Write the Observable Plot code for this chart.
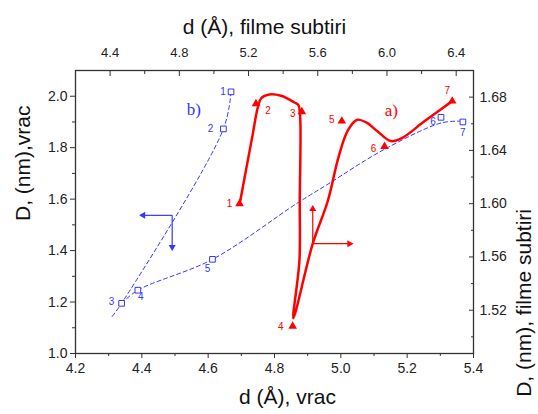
<!DOCTYPE html>
<html><head><meta charset="utf-8">
<script src="https://cdn.jsdelivr.net/npm/d3@7"></script>
<script src="https://cdn.jsdelivr.net/npm/@observablehq/plot@0.6"></script>
<style>body{margin:0;background:#fff}</style>
</head><body><div id="chart"></div>
<script>
// ---- data: bulk ("vrac") series b), bottom / left axes
const vracLabels = ["1","2","3","4","5","6","7"];
const vracD = [4.669, 4.646, 4.339, 4.388, 4.613, 5.302, 5.368];
const vracSize = [2.017, 1.873, 1.195, 1.246, 1.366, 1.918, 1.900];

// blue dashed curve as traced in the figure (two strokes: 1→3 with tail, 3→7)
const vracCurvePath = ["A","A","A","A","B","B","B","B","B","B","B","B"];
const vracCurveD = [4.669, 4.646, 4.339, 4.310, 4.339, 4.388, 4.613, 4.868, 4.957, 5.129, 5.302, 5.358];
const vracCurveSize = [2.017, 1.873, 1.195, 1.143, 1.195, 1.246, 1.366, 1.584, 1.655, 1.792, 1.896, 1.903];

// ---- data: thin films ("filme subtiri") series a), top / right axes
const filmLabels = ["1","2","3","4","5","6","7"];
const filmD = [5.148, 5.243, 5.508, 5.455, 5.739, 5.986, 6.377];
const filmSize = [1.600, 1.675, 1.669, 1.508, 1.662, 1.643, 1.677];

// red smooth curve as traced in the figure (film coordinates)
const filmCurveD = [5.152, 5.185, 5.224, 5.253, 5.272, 5.320, 5.388, 5.465, 5.488, 5.498, 5.496, 5.494, 5.459, 5.571, 5.658, 5.720, 5.774, 5.828, 5.880, 5.948, 6.021, 6.083, 6.218, 6.377];
const filmCurveSize = [1.602, 1.625, 1.652, 1.672, 1.679, 1.682, 1.681, 1.676, 1.674, 1.666, 1.602, 1.557, 1.514, 1.570, 1.602, 1.635, 1.655, 1.663, 1.661, 1.654, 1.647, 1.649, 1.662, 1.677];

// axis-indicating arrows
const vracArrowX1 = [4.4915, 4.4915], vracArrowY1 = [1.537, 1.537];
const vracArrowX2 = [4.404, 4.4915],  vracArrowY2 = [1.537, 1.414];
const filmArrowX1 = [5.571, 5.571], filmArrowY1 = [1.570, 1.570];
const filmArrowX2 = [5.571, 5.783], filmArrowY2 = [1.596, 1.570];

// series tags
const seriesTags = ["a)", "b)"];
const tagFilmPos = {d: 6.025, D: 1.670};
const tagVracPos = {d: 4.557, D: 1.948};

// axes
const vracXDomain = [4.2, 5.4], vracYDomain = [1.0, 2.1];
const filmXDomain = [4.2, 6.5], filmYDomain = [1.4875, 1.70];
const bottomTicks = [4.2, 4.4, 4.6, 4.8, 5.0, 5.2, 5.4];
const bottomMinor = [4.3, 4.5, 4.7, 4.9, 5.1, 5.3];
const leftTicks = [1.0, 1.2, 1.4, 1.6, 1.8, 2.0];
const leftMinor = [1.1, 1.3, 1.5, 1.7, 1.9];
const topTicks = [4.4, 4.8, 5.2, 5.6, 6.0, 6.4];
const topMinor = [4.6, 5.0, 5.4, 5.8, 6.2];
const rightTicks = [1.52, 1.56, 1.60, 1.64, 1.68];
const rightMinor = [1.50, 1.54, 1.58, 1.62, 1.66];

const xLabelBottom = "d (Å), vrac";
const xLabelTop = "d (Å), filme subtiri";
const yLabelLeft = "D, (nm),vrac";
const yLabelRight = "D, (nm), filme subtiri";

// ---- build
const BLUE = "#3535ff", RED = "#ff0000", AX = "#333";
const toX = d3.scaleLinear().domain(filmXDomain).range(vracXDomain);
const toY = d3.scaleLinear().domain(filmYDomain).range(vracYDomain);

const vrac = vracLabels.map((label, i) => ({label, d: vracD[i], D: vracSize[i]}));
const vracCurve = vracCurveD.map((v, i) => ({path: vracCurvePath[i], d: v, D: vracCurveSize[i]}));
const film = filmLabels.map((label, i) => ({label, d: toX(filmD[i]), D: toY(filmSize[i])}));
const filmCurve = filmCurveD.map((v, i) => ({d: toX(v), D: toY(filmCurveSize[i])}));
const vracArrows = vracArrowX1.map((v, i) => ({x1: v, y1: vracArrowY1[i], x2: vracArrowX2[i], y2: vracArrowY2[i]}));
const filmArrows = filmArrowX1.map((v, i) => ({x1: toX(v), y1: toY(filmArrowY1[i]), x2: toX(filmArrowX2[i]), y2: toY(filmArrowY2[i])}));
const headAngle = d => (d.x2 < d.x1 ? -90 : d.x2 > d.x1 ? 90 : d.y2 < d.y1 ? 180 : 0);

const blueLab = (n, dx, dy) => Plot.text(vrac.filter(d => d.label === n), {x: "d", y: "D", text: "label", dx, dy, fill: BLUE, fontSize: 10});
const redLab = (n, dx, dy) => Plot.text(film.filter(d => d.label === n), {x: "d", y: "D", text: "label", dx, dy, fill: RED, fontSize: 10});
const arrowMarks = (data, color) => [
  Plot.link(data, {x1: "x1", y1: "y1", x2: "x2", y2: "y2", stroke: color, strokeWidth: 1.2}),
  Plot.dot(data, {x: "x2", y: "y2", symbol: "triangle", r: 2.6, fill: color, rotate: headAngle})
];

const chart = Plot.plot({
  width: 538, height: 414,
  marginLeft: 75, marginRight: 65, marginTop: 70, marginBottom: 61,
  x: {domain: vracXDomain, axis: null},
  y: {domain: vracYDomain, axis: null},
  style: {fontFamily: "'Liberation Sans', Arial, sans-serif", background: "white", color: "#222", overflow: "visible"},
  marks: [
    // axes
    Plot.axisX({ticks: bottomTicks, anchor: "bottom", tickSize: 5, tickPadding: 5, tickFormat: d3.format(".1f"), fontSize: 14, label: null, stroke: AX}),
    Plot.axisX({ticks: bottomMinor, anchor: "bottom", tickSize: 3, tickFormat: () => "", label: null, stroke: AX}),
    Plot.axisY({ticks: leftTicks, anchor: "left", tickSize: 5, tickPadding: 3, tickFormat: d3.format(".1f"), fontSize: 14, label: null, stroke: AX}),
    Plot.axisY({ticks: leftMinor, anchor: "left", tickSize: 3, tickFormat: () => "", label: null, stroke: AX}),
    Plot.axisX({ticks: topTicks.map(toX), anchor: "top", tickSize: -5, tickPadding: 19, tickFormat: v => toX.invert(v).toFixed(1), fontSize: 13, label: null, stroke: AX}),
    Plot.axisX({ticks: topMinor.map(toX), anchor: "top", tickSize: -3, tickPadding: 10, tickFormat: () => "", label: null, stroke: AX}),
    Plot.axisY({ticks: rightTicks.map(toY), anchor: "right", tickSize: -5, tickPadding: 11, tickFormat: v => toY.invert(v).toFixed(2), fontSize: 14, label: null, stroke: AX}),
    Plot.axisY({ticks: rightMinor.map(toY), anchor: "right", tickSize: -3, tickPadding: 10, tickFormat: () => "", label: null, stroke: AX}),
    Plot.frame({stroke: AX, strokeWidth: 1.3}),
    // axis titles
    Plot.text([xLabelBottom], {frameAnchor: "bottom", text: d => d, dx: 13, dy: 50, fontSize: 21, fill: "#111"}),
    Plot.text([xLabelTop], {frameAnchor: "top", text: d => d, dx: -10, dy: -51, fontSize: 21, fill: "#111"}),
    Plot.text([yLabelLeft], {frameAnchor: "left", text: d => d, dx: -52, dy: 9, rotate: -90, fontSize: 21, fill: "#111"}),
    Plot.text([yLabelRight], {frameAnchor: "right", text: d => d, dx: 51, dy: -3, rotate: -90, fontSize: 21, fill: "#111"}),
    // blue series b)
    Plot.line(vracCurve, {x: "d", y: "D", z: "path", curve: "catmull-rom", stroke: BLUE, strokeWidth: 1, strokeDasharray: "4,3"}),
    Plot.dot(vrac, {x: "d", y: "D", symbol: "square", r: 3.2, stroke: BLUE, strokeWidth: 1, fill: "white"}),
    blueLab("1", -8, 0), blueLab("2", -13, 0), blueLab("3", -10, -2), blueLab("4", 3, 7),
    blueLab("5", -5, 9), blueLab("6", -8, 4), blueLab("7", 0, 11),
    ...arrowMarks(vracArrows, BLUE),
    Plot.text([seriesTags[1]], {x: () => tagVracPos.d, y: () => tagVracPos.D, text: d => d, fill: BLUE, fontSize: 17, fontFamily: "'Liberation Serif', serif"}),
    // red series a)
    Plot.line(filmCurve, {x: "d", y: "D", curve: "catmull-rom", stroke: RED, strokeWidth: 2.5}),
    Plot.dot(film, {x: "d", y: "D", symbol: "triangle", r: 3.2, fill: RED}),
    redLab("1", -10, 0), redLab("2", 12, 7), redLab("3", -9, 2), redLab("4", -12, 1),
    redLab("5", -10, -1), redLab("6", -11, 2), redLab("7", -5, -10),
    ...arrowMarks(filmArrows, RED),
    Plot.text([seriesTags[0]], {x: () => toX(tagFilmPos.d), y: () => toY(tagFilmPos.D), text: d => d, fill: RED, fontSize: 17, fontFamily: "'Liberation Serif', serif"})
  ]
});
document.getElementById("chart").append(chart);
</script></body></html>
